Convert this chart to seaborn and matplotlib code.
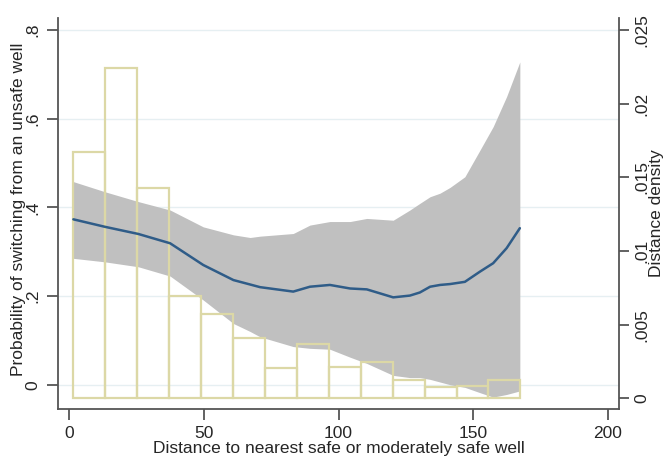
import numpy as np
import pandas as pd
import matplotlib
matplotlib.use("Agg")
import matplotlib.pyplot as plt
import seaborn as sns

# ---- data ----
bin_edges = [1.6, 13.45, 25.3, 37.15, 49.0, 60.85, 72.7, 84.55, 96.4,
             108.25, 120.1, 131.95, 143.8, 155.65, 167.5]
hist_density = [0.01673, 0.02243, 0.01429, 0.00696, 0.00572, 0.00407, 0.00206,
                0.00368, 0.00210, 0.00248, 0.00124, 0.00079, 0.00085, 0.00126]

x_fit = [1.6, 13.4, 25.7, 37.5, 49.8, 61.0, 67.2, 70.9, 83.2, 89.4, 96.8, 104.3,
         110.5, 120.3, 126.5, 130.2, 134.0, 137.7, 141.4, 146.9, 152.5, 157.4,
         162.4, 167.3]
p_fit = [0.373, 0.356, 0.340, 0.319, 0.270, 0.236, 0.226, 0.220, 0.210, 0.221,
         0.225, 0.217, 0.215, 0.197, 0.201, 0.208, 0.221, 0.225, 0.227, 0.232,
         0.255, 0.274, 0.308, 0.353]
p_upper = [0.458, 0.435, 0.413, 0.394, 0.356, 0.338, 0.332, 0.335, 0.341, 0.360,
           0.368, 0.368, 0.375, 0.371, 0.394, 0.409, 0.424, 0.432, 0.445, 0.469,
           0.529, 0.582, 0.650, 0.728]
p_lower = [0.285, 0.277, 0.266, 0.245, 0.191, 0.138, 0.120, 0.108, 0.086, 0.082,
           0.080, 0.062, 0.048, 0.021, 0.016, 0.016, 0.012, 0.006, 0.000, -0.006,
           -0.018, -0.028, -0.022, -0.014]

x_ticks = [0, 50, 100, 150, 200]
x_ticklabels = ["0", "50", "100", "150", "200"]
left_ticks = [0, 0.2, 0.4, 0.6, 0.8]
left_ticklabels = ["0", ".2", ".4", ".6", ".8"]
right_ticks = [0, 0.005, 0.01, 0.015, 0.02, 0.025]
right_ticklabels = ["0", ".005", ".01", ".015", ".02", ".025"]

xlabel = "Distance to nearest safe or moderately safe well"
ylabel_left = "Probability of switching from an unsafe well"
ylabel_right = "Distance density"

# ---- styling ----
sns.set_theme(style="white")
plt.rcParams["font.family"] = ["Liberation Sans", "DejaVu Sans"]
FS = 12.5
SPINE = "#555555"
HIST_C = "#dcd8a6"
LINE_C = "#2f5c88"
BAND_C = "#c0c0c0"
GRID_C = "#e6eff2"

fig = plt.figure(figsize=(6.64, 4.58), dpi=100)
ax = fig.add_axes([0.0878, 0.107, 0.844, 0.8536])
ax2 = ax.twinx()
ax3 = ax.twinx()

# band on primary axis
ax.fill_between(x_fit, p_lower, p_upper, color=BAND_C, lw=0, zorder=1)

# histogram on the density axis
centers = [(a + b) / 2 for a, b in zip(bin_edges[:-1], bin_edges[1:])]
hdf = pd.DataFrame({"dist": centers, "w": hist_density})
sns.histplot(data=hdf, x="dist", weights="w", bins=bin_edges, stat="count",
             fill=False, element="bars", color=HIST_C, linewidth=1.6, ax=ax2)

# fitted line on top
fdf = pd.DataFrame({"dist": x_fit, "p": p_fit})
sns.lineplot(data=fdf, x="dist", y="p", color=LINE_C, lw=1.8, ax=ax3)

# limits
ax.set_xlim(-4, 204)
ax.set_ylim(-0.0548, 0.827)
ax2.set_ylim(-0.000726, 0.0258)
ax3.set_ylim(ax.get_ylim())
ax3.axis("off")

# grid
ax.set_axisbelow(True)
ax.yaxis.grid(True, color=GRID_C, lw=1.0, zorder=0)
ax.xaxis.grid(False)
ax2.grid(False)

# spines
for s in ["top", "right"]:
    ax.spines[s].set_visible(False)
for s in ["top", "left", "bottom"]:
    ax2.spines[s].set_visible(False)
for a, names in [(ax, ["left", "bottom"]), (ax2, ["right"])]:
    for s in names:
        a.spines[s].set_color(SPINE)
        a.spines[s].set_linewidth(1.3)

# ticks
ax.set_xticks(x_ticks)
ax.set_xticklabels(x_ticklabels, fontsize=FS)
ax.set_yticks(left_ticks)
ax.set_yticklabels(left_ticklabels, fontsize=FS, rotation=90, va="center")
ax2.set_yticks(right_ticks)
ax2.set_yticklabels(right_ticklabels, fontsize=FS, rotation=90, va="center")
ax.tick_params(axis="both", direction="out", length=8, width=1.3, color=SPINE,
               bottom=True, left=True)
ax.tick_params(axis="y", pad=5)
ax.tick_params(axis="x", pad=4)
ax2.tick_params(axis="y", direction="out", length=7, width=1.3, color=SPINE,
                right=True, pad=4)

# labels
ax.set_xlabel(xlabel, fontsize=FS)
ax.xaxis.label.set_va("center")
ax.xaxis.set_label_coords(0.5, -0.102)
ax.set_ylabel(ylabel_left, fontsize=FS)
ax.yaxis.label.set_va("center")
ax.yaxis.set_label_coords(-0.071, 0.51)
ax2.set_ylabel(ylabel_right, fontsize=FS)
ax2.yaxis.label.set_va("center")
ax2.yaxis.set_label_coords(1.067, 0.5)

fig.savefig("out.png", dpi=100)
